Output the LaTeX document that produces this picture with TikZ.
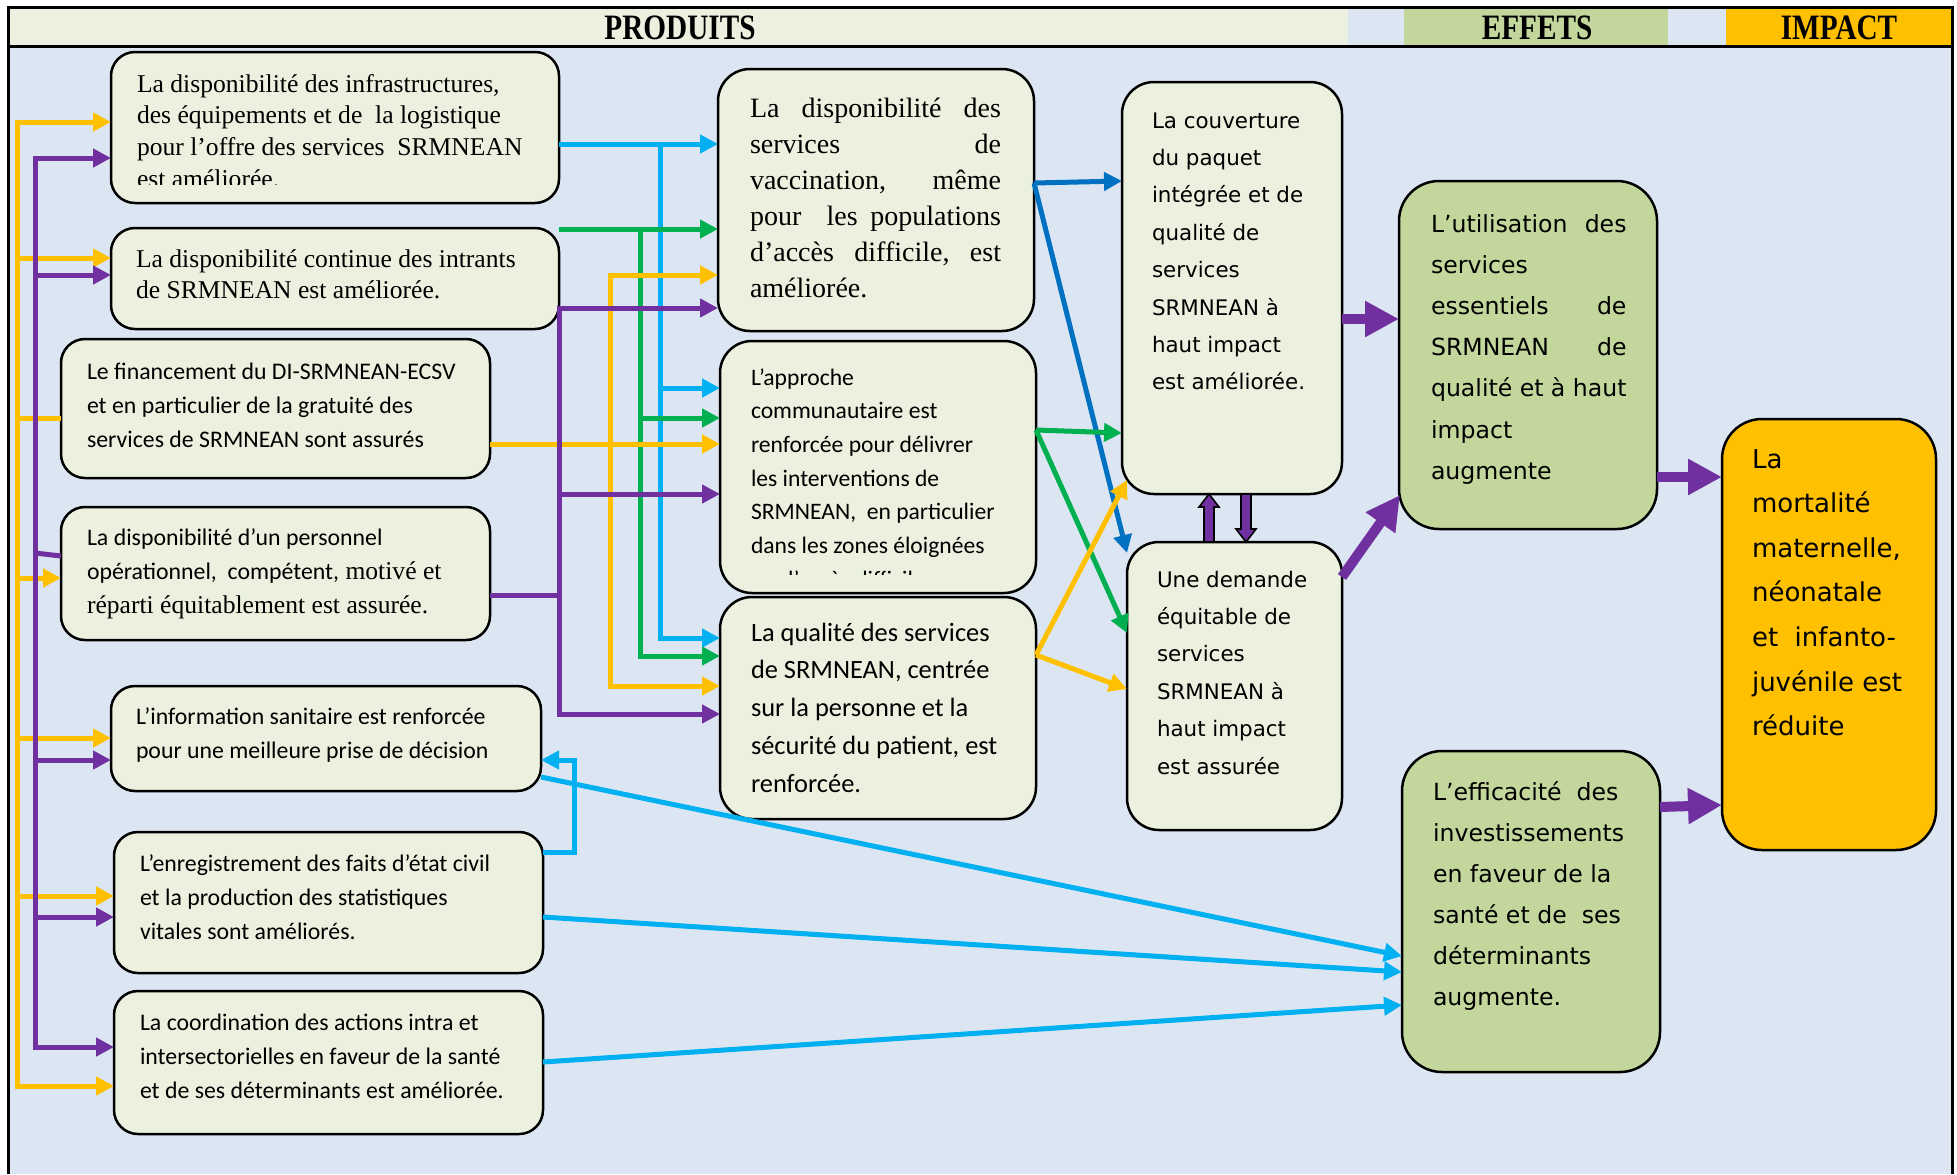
\documentclass[tikz,border=0pt]{standalone}
\usepackage{fontspec}
\setmainfont{Liberation Serif}
\newfontfamily\calib{Carlito}
\newfontfamily\verd{DejaVu Sans}
\usetikzlibrary{arrows.meta,fit,calc}
\definecolor{bgblue}{HTML}{DCE6F2}
\definecolor{lgreen}{HTML}{EBF1DE}
\definecolor{mgreen}{HTML}{C3D69B}
\definecolor{orangeY}{HTML}{FFC000}
\definecolor{cyanB}{HTML}{00B0F0}
\definecolor{greenC}{HTML}{00B050}
\definecolor{purpleC}{HTML}{7030A0}
\definecolor{dblue}{HTML}{0070C0}
\newcommand\fs[2]{\fontsize{#1pt}{#2pt}\selectfont}
\tikzset{
 box/.style={draw=black, line width=1.25pt, rounded corners=12pt, inner sep=0pt, outer sep=0pt},
 pbox/.style={box, fill=lgreen},
 mbox/.style={box, fill=lgreen, rounded corners=16pt},
 ebox/.style={box, fill=mgreen, rounded corners=20pt},
 ibox/.style={box, fill=orangeY, rounded corners=20pt},
 txt/.style={anchor=base west, inner sep=0pt, outer sep=0pt},
 conn/.style={line width=2.5pt},
 tip/.style={-{Triangle[length=9pt,width=9pt]}},
 cy/.style={conn, draw=cyanB},
 gr/.style={conn, draw=greenC},
 ye/.style={conn, draw=orangeY},
 pu/.style={conn, draw=purpleC},
 db/.style={conn, draw=dblue},
 big/.style={draw=purpleC, line width=5pt, -{Triangle[length=17pt,width=17pt]}},
 blk/.style={fill=purpleC, draw=black, line width=0.8pt},
 hdr/.style={anchor=base, inner sep=0pt, font=\fs{17}{18}\bfseries},
}
\begin{document}
\begin{tikzpicture}[x=0.5pt,y=-0.5pt]
\useasboundingbox (0,0) rectangle (1957,1174);
% frame and header
\fill[white] (0,0) rectangle (1957,1174);
\fill[bgblue] (8,7) rectangle (1952,1174);
\fill[lgreen] (8,7) rectangle (1348,46);
\fill[mgreen] (1404,7) rectangle (1668,46);
\fill[orangeY] (1726,7) rectangle (1952,46);
\draw[line width=1.5pt] (8,1174) -- (8,7) -- (1952,7) -- (1952,1174);
\draw[line width=1.5pt] (8,46) -- (1952,46);
\node[hdr] (hp) at (680,39) {\scalebox{0.86}[1.05]{PRODUITS}};
\node[hdr] (he) at (1537,39) {\scalebox{0.86}[1.05]{EFFETS}};
\node[hdr] (hi) at (1839,39) {\scalebox{0.86}[1.05]{IMPACT}};

% boxes
\node[pbox, fit={(111,52) (559,203)}] (b1) {};
\node[pbox, fit={(111,228) (559,329)}] (b2) {};
\node[pbox, fit={(61,339) (490,478)}] (b3) {};
\node[pbox, fit={(61,507) (490,640)}] (b4) {};
\node[pbox, fit={(111,686) (541,791)}] (b5) {};
\node[pbox, fit={(114,832) (543,973)}] (b6) {};
\node[pbox, fit={(114,991) (543,1134)}] (b7) {};
\node[mbox, fit={(718,69) (1034,331)}] (m1) {};
\node[mbox, fit={(720,341) (1036,593)}] (m2) {};
\node[mbox, fit={(720,597) (1036,819)}] (m3) {};
\node[mbox, fit={(1122,82) (1342,494)}] (e1) {};
\node[mbox, fit={(1127,542) (1342,830)}] (e2) {};
\node[ebox, fit={(1399,181) (1657,529)}] (u) {};
\node[ebox, fit={(1402,751) (1660,1072)}] (f) {};
\node[ibox, fit={(1722,419) (1936,850)}] (im) {};

% texts
\begin{scope}
\clip (111,52) rectangle (559,184);
\node[txt] (b1t) at (137,92) {\parbox[t]{240pt}{\fs{12.8}{15.85}La disponibilité des infrastructures,\\ des équipements et de\ \ la logistique\\ pour l’offre des services\ \ SRMNEAN\\ est améliorée.}};
\end{scope}
\node[txt] (b2t) at (136,267) {\parbox[t]{240pt}{\fs{12.8}{15.85}La disponibilité continue des intrants\\ de SRMNEAN est améliorée.}};
\node[txt] (b3t) at (87,379) {\parbox[t]{240pt}{\calib\fs{11.9}{17}Le financement du DI-SRMNEAN-ECSV\\ et en particulier de la gratuité des\\ services de SRMNEAN sont assurés}};
\node[txt] (b4t) at (87,545) {\parbox[t]{240pt}{\fs{12.8}{17}{\calib\fs{11.9}{17}La disponibilité d’un personnel\\ opérationnel,\ \ compétent,} motivé et\\ réparti équitablement est assurée.}};
\node[txt] (b5t) at (136,724) {\parbox[t]{240pt}{\calib\fs{11.9}{17}L’information sanitaire est renforcée\\ pour une meilleure prise de décision}};
\node[txt] (b6t) at (140,871) {\parbox[t]{240pt}{\calib\fs{11.9}{17}L’enregistrement des faits d’état civil\\ et la production des statistiques\\ vitales sont améliorés.}};
\node[txt] (b7t) at (140,1030) {\parbox[t]{240pt}{\calib\fs{11.9}{17}La coordination des actions intra et\\ intersectorielles en faveur de la santé\\ et de ses déterminants est améliorée.}};
\node[txt] (m1t) at (750,117) {\parbox[t]{125.5pt}{\fs{14}{18}La\hfill disponibilité\hfill des\\ services\hfill de\\ vaccination,\hfill même\\ pour\hfill\hfill les\hfill populations\\ d’accès\hfill difficile,\hfill est\\ améliorée.}};
\begin{scope}
\clip (720,341) rectangle (1036,574);
\node[txt] (m2t) at (751,385) {\parbox[t]{160pt}{\calib\fs{11.8}{16.85}L’approche\\ communautaire est\\ renforcée pour délivrer\\ les interventions de\\ SRMNEAN,\ \ en particulier\\ dans les zones éloignées\\ ou d’accès difficile}};
\end{scope}
\node[txt] (m3t) at (751,641) {\parbox[t]{160pt}{\calib\fs{13.2}{18.9}La qualité des services\\ de SRMNEAN, centrée\\ sur la personne et la\\ sécurité du patient, est\\ renforcée.}};
\node[txt] (e1t) at (1152,128) {\parbox[t]{110pt}{\verd\fs{10.7}{18.7}La couverture\\ du paquet\\ intégrée et de\\ qualité de\\ services\\ SRMNEAN à\\ haut impact\\ est améliorée.}};
\node[txt] (e2t) at (1157,587) {\parbox[t]{110pt}{\verd\fs{10.7}{18.7}Une demande\\ équitable de\\ services\\ SRMNEAN à\\ haut impact\\ est assurée}};
\node[txt] (ut) at (1431,232) {\parbox[t]{97.75pt}{\verd\fs{11.8}{20.6}L’utilisation\hfill des\\ services\\ essentiels\hfill de\\ SRMNEAN\hfill de\\ qualité et à haut\\ impact\\ augmente}};
\node[txt] (ft) at (1433,800) {\parbox[t]{115pt}{\verd\fs{11.8}{20.5}L’efficacité\ \ des\\ investissements\\ en faveur de la\\ santé et de\ \ ses\\ déterminants\\ augmente.}};
\node[txt] (it) at (1752,468) {\parbox[t]{100pt}{\verd\fs{13}{22.3}La\\ mortalité\\ maternelle,\\ néonatale\\ et\ \ infanto-\\ juvénile est\\ réduite}};

% left rails: yellow (from b3) and purple (from b4)
\coordinate (yr) at (17,418);
\draw[ye] (b3.west |- 0,418) -- (yr);
\draw[ye,tip] (yr) |- (b1.west |- 0,122);
\draw[ye,tip] (yr) |- (b2.west |- 0,258);
\draw[ye,tip] (yr) |- (b4.west |- 0,578);
\draw[ye,tip] (yr) |- (b5.west |- 0,738);
\draw[ye,tip] (yr) |- (b6.west |- 0,896);
\draw[ye,tip] (yr) |- (b7.west |- 0,1086);
\coordinate (pr) at (35,553);
\draw[pu] (b4.west |- 0,556) -- (pr);
\draw[pu,tip] (pr) |- (b1.west |- 0,158);
\draw[pu,tip] (pr) |- (b2.west |- 0,275);
\draw[pu,tip] (pr) |- (b5.west |- 0,760);
\draw[pu,tip] (pr) |- (b6.west |- 0,917);
\draw[pu,tip] (pr) |- (b7.west |- 0,1047);

% middle feeds
\coordinate (cyj) at (660,144);
\draw[cy,tip] (b1.east |- 0,144) -- (m1.west |- 0,144);
\draw[cy,tip] (cyj) |- (m2.west |- 0,388);
\draw[cy,tip] (cyj) |- (m3.west |- 0,638);
\coordinate (grj) at (640,229);
\draw[gr,tip] (b2.east |- 0,229) -- (m1.west |- 0,229);
\draw[gr,tip] (grj) |- (m2.west |- 0,418);
\draw[gr,tip] (grj) |- (m3.west |- 0,656);
\coordinate (yej) at (610,444);
\draw[ye,tip] (b3.east |- 0,444) -- (m2.west |- 0,444);
\draw[ye,tip] (yej) |- (m1.west |- 0,275);
\draw[ye,tip] (yej) |- (m3.west |- 0,686);
\coordinate (puj) at (559,595);
\draw[pu] (b4.east |- 0,595) -- (puj);
\draw[pu,tip] (puj) |- (m1.west |- 0,308);
\draw[pu,tip] (puj) |- (m2.west |- 0,494);
\draw[pu,tip] (puj) |- (m3.west |- 0,714);

% b6 -> b5 and lower blue links to f
\draw[cy,tip] (b6.east |- 0,852) -| (574,760) -- (b5.east |- 0,760);
\draw[cy,tip] (b5.east |- 0,777) -- (f.west |- 0,956);
\draw[cy,tip] (b6.east |- 0,917) -- (f.west |- 0,972);
\draw[cy,tip] (b7.east |- 0,1062) -- (f.west |- 0,1005);

% middle to e1/e2
\coordinate (m1o) at (m1.east |- 0,183);
\draw[db,tip] (m1o) -- (e1.west |- 0,181);
\draw[db,tip] (m1o) -- ($(e2.north west)+(0,11)$);
\coordinate (m2o) at (m2.east |- 0,430);
\draw[gr,tip] (m2o) -- (e1.west |- 0,433);
\draw[gr,tip] (m2o) -- (e2.west |- 0,633);
\coordinate (m3o) at (m3.east |- 0,655);
\draw[ye,tip] (m3o) -- ($(e1.south west)+(5,-14)$);
\draw[ye,tip] (m3o) -- (e2.west |- 0,689);

% block arrows between e1 and e2
\draw[blk] ($(e2.north)+(-30.5,0)$) -- ++(0,-35) -- ++(-5,0) -- ++(10,-13) -- ++(10,13) -- ++(-5,0) -- ++(0,35) -- cycle;
\draw[blk] ($(e1.south)+(9,0)$) -- ++(0,35) -- ++(-5,0) -- ++(10,13) -- ++(10,-13) -- ++(-5,0) -- ++(0,-35) -- cycle;

% thick purple arrows
\draw[big] (e1.east |- 0,319) -- (u.west |- 0,319);
\draw[big] ($(e2.north east)+(0,35)$) -- ($(u.south west)+(1,-34)$);
\draw[big] (u.east |- 0,477) -- (im.west |- 0,477);
\draw[big] (f.east |- 0,807) -- (im.west |- 0,805);
\end{tikzpicture}
\end{document}
